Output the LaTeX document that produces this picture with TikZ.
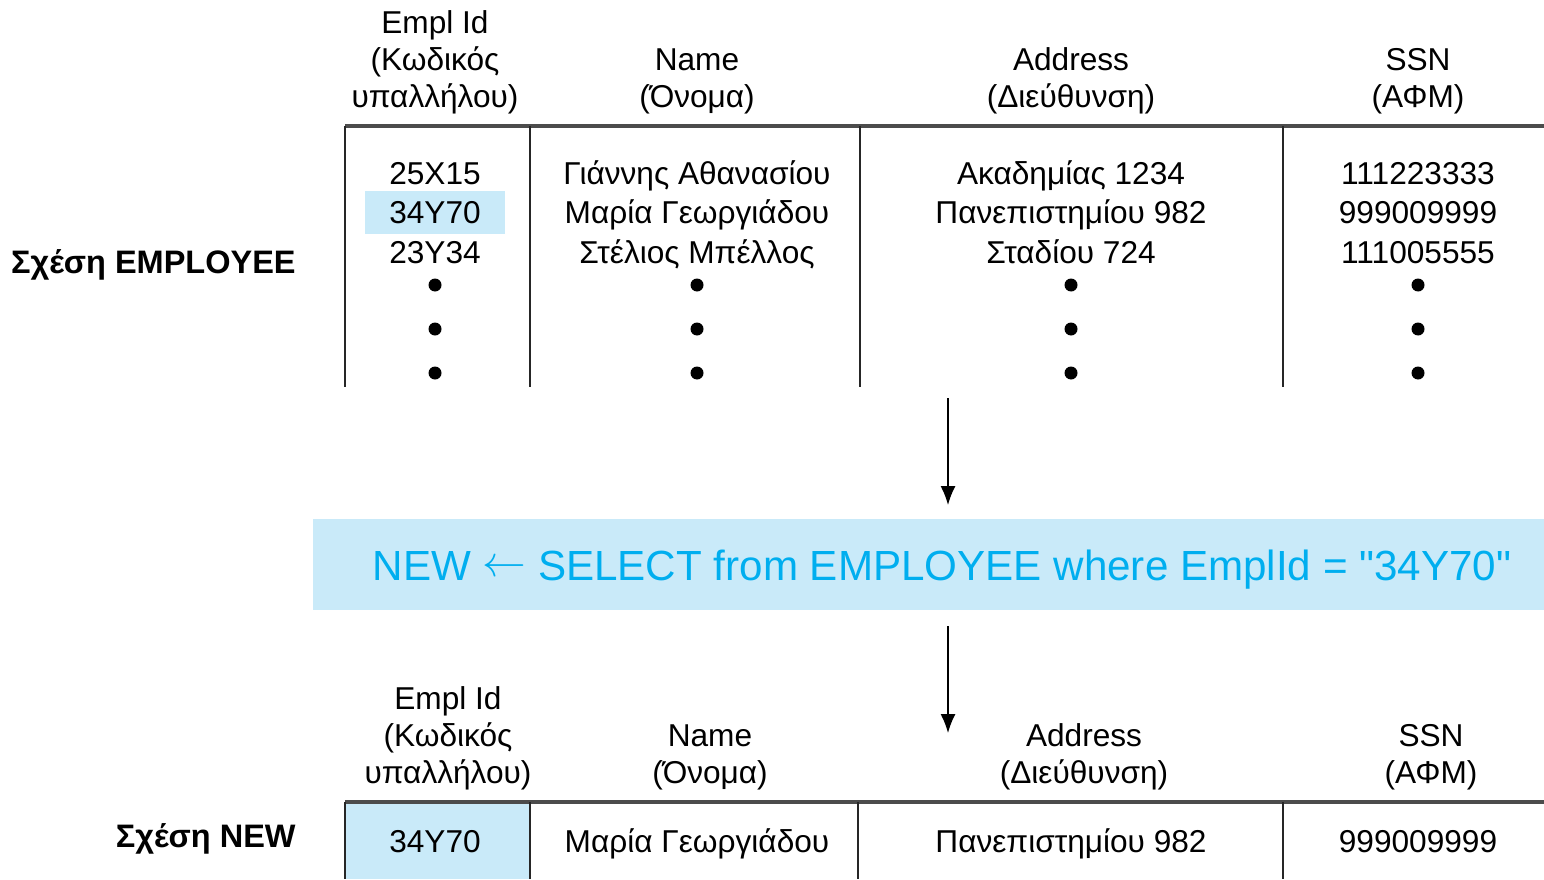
\documentclass[tikz,border=0pt]{standalone}
\usepackage{fontspec}
\setmainfont{Liberation Sans}[Ligatures=TeXOff]
\usetikzlibrary{positioning}
\usetikzlibrary{arrows.meta,shapes}
\usetikzlibrary{calc}
\definecolor{selblue}{HTML}{C9EAF9}
\definecolor{seltext}{HTML}{00AEEF}

\begin{document}
\begin{tikzpicture}[x=0.02cm, y=-0.02cm, font=\fontsize{18}{21}\selectfont,
  hline/.style={line width=2pt, black!70},
  vline/.style={line width=1pt, black!85},
  hdr/.style={align=center, anchor=south, inner sep=0pt},
  cell/.style={anchor=base, inner sep=0pt},
  dot/.style={circle, fill=black, inner sep=0pt, minimum size=0.26cm},
  rel/.style={font=\fontsize{18.5}{21}\selectfont\bfseries, anchor=base east, inner sep=0pt},
  flow/.style={line width=0.8pt, -{Latex[length=0.38cm, width=0.3cm]}}]
 \useasboundingbox (0,0) rectangle (1544,879);

 %level 1
 \def\dy{0}
 \fill[selblue] (365,191+\dy) rectangle (505,234+\dy);
 \draw[hline] (345,126+\dy) -- (1544,126+\dy);
 \foreach \x in {345,530,860,1283} {
         \draw[vline] (\x,126+\dy) -- (\x,387+\dy);
 }
 \foreach \i/\x/\hd/\a/\b/\c in {1/435/Empl Id\\(Κωδικός\\υπαλλήλου)/25X15/34Y70/23Y34,
                                 2/697/Name\\(Όνομα)/Γιάννης Αθανασίου/Μαρία Γεωργιάδου/Στέλιος Μπέλλος,
                                 3/1071/Address\\(Διεύθυνση)/Ακαδημίας 1234/Πανεπιστημίου 982/Σταδίου 724,
                                 4/1418/SSN\\(ΑΦΜ)/111223333/999009999/111005555} {
         \node[hdr]  (eh\i) at (\x,114+\dy) {\hd};
         \node[cell] (ea\i) at (\x,184+\dy) {\a};
         \node[cell] (eb\i) at (\x,223+\dy) {\b};
         \node[cell] (ec\i) at (\x,263+\dy) {\c};
         \foreach \j/\y in {1/285,2/329,3/373} {
                 \node[dot] (ed\i\j) at (\x,\y+\dy) {};
         }
 }
 \node[rel] (emp) at (296,273) {Σχέση EMPLOYEE};

 %arrow
 \coordinate (a1s) at (948,398);
 \coordinate (a1e) at (948,505);
 \draw[flow] (a1s) -- (a1e);

 %select
 \fill[selblue] (313,519) rectangle (1544,610);
 \node[cell, text=seltext, font=\fontsize{24}{28}\selectfont] (sel) at (942,580)
         {NEW \raisebox{0.08em}{$\leftarrow$} SELECT from EMPLOYEE where EmplId = "34Y70"};

 %arrow
 \coordinate (a2s) at (948,626);
 \coordinate (a2e) at (948,733);
 \draw[flow] (a2s) -- (a2e);

 %level 2
 \def\dy{676}
 \fill[selblue] (345,126+\dy) rectangle (530,879);
 \draw[hline] (345,126+\dy) -- (1544,126+\dy);
 \foreach \x in {345,530,858,1283} {
         \draw[vline] (\x,126+\dy) -- (\x,879);
 }
 \foreach \i/\x/\hd/\a in {1/435/Empl Id\\(Κωδικός\\υπαλλήλου)/34Y70,
                           2/697/Name\\(Όνομα)/Μαρία Γεωργιάδου,
                           3/1071/Address\\(Διεύθυνση)/Πανεπιστημίου 982,
                           4/1418/SSN\\(ΑΦΜ)/999009999} {
         \node[hdr]  (nh\i) at (\x+13,114+\dy) {\hd};
         \node[cell] (na\i) at (\x,176+\dy) {\a};
 }
 \node[rel] (new) at (296,847) {Σχέση NEW};

\end{tikzpicture}
\end{document}
